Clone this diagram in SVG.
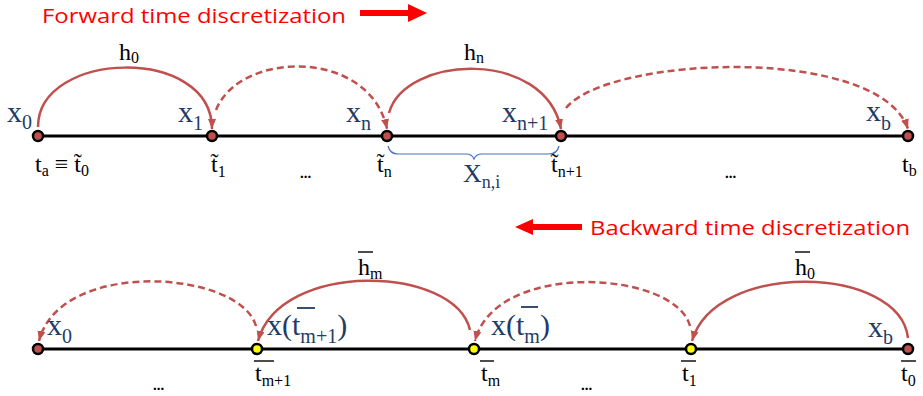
<svg xmlns="http://www.w3.org/2000/svg" width="923" height="396" viewBox="0 0 923 396">
<defs>
<style>
.title{font-family:"Open Sans","Liberation Sans",sans-serif;font-size:20.5px;fill:#FF0000}
.m{font-family:"Liberation Serif","Times New Roman",serif;fill:#000}
.xl{font-family:"Liberation Serif","Times New Roman",serif;fill:#1F3B66;font-size:30px}
.xs{font-size:20px}
.t{font-size:24px}
.ts{font-size:16px}
.dots{font-family:"Liberation Serif",serif;font-size:15px;font-weight:bold;fill:#000}
.axis{stroke:#000;stroke-width:3;fill:none}
.arc{stroke:#C0504D;stroke-width:2.5;fill:none;marker-end:url(#ah)}
.dash{stroke-dasharray:7 4}
.nr{fill:#C0504D;stroke:#000;stroke-width:2.5}
.ny{fill:#FFFF00;stroke:#000;stroke-width:2.5}
.bar{stroke:#000;stroke-width:1.4}
.xbar{stroke:#1F3B66;stroke-width:1.8}
.brace{stroke:#4472C4;stroke-width:1.2;fill:none}
</style>
<marker id="ah" markerUnits="userSpaceOnUse" markerWidth="11" markerHeight="9" refX="10" refY="4" orient="auto">
<path d="M0,0 L10,4 L0,8 z" fill="#C0504D"/>
</marker>
</defs>

<g id="titles">
<text class="title" x="42" y="22.5" textLength="304" lengthAdjust="spacingAndGlyphs">Forward time discretization</text>
<polygon points="360,10 408,10 408,4 427,13 408,22 408,16 360,16" fill="#FF0000"/>
<text class="title" x="590" y="235" textLength="320" lengthAdjust="spacingAndGlyphs">Backward time discretization</text>
<polygon points="582,224 533,224 533,219 515,227 533,235 533,230 582,230" fill="#FF0000"/>
</g>

<g id="axes">
<line class="axis" x1="38" y1="136" x2="908" y2="136"/>
<line class="axis" x1="38" y1="349" x2="908" y2="349"/>
</g>

<g id="connectors">
<path class="arc" d="M38,127 C38,50 212,45 212,129"/>
<path class="arc dash" d="M216,110 C240,50 370,48 387,129"/>
<path class="arc" d="M389,113 C405,55 545,48 561,129"/>
<path class="arc dash" d="M566,108 C610,55 880,45 908,129"/>
<path class="arc dash" d="M256,326 C240,270 60,258 39,341"/>
<path class="arc" d="M470,330 C455,265 280,260 258,341"/>
<path class="arc dash" d="M690,326 C675,270 495,260 475,341"/>
<path class="arc" d="M908,338 C900,265 715,260 692,341"/>
</g>

<g id="brace">
<path class="brace" d="M388,146 Q390,154 398,154 L466,154 Q472,154 474,159 Q476,154 482,154 L549,154 Q557,154 559,146"/>
<text class="xl" x="463" y="182" style="font-size:26px">X<tspan style="font-size:18px" dy="6">n,i</tspan></text>
</g>

<g id="node-x0">
<circle class="nr" cx="38" cy="136" r="5"/>
<text class="xl" x="7" y="122">x<tspan class="xs" dy="7">0</tspan></text>
<text class="m t" x="35" y="172">t<tspan class="ts" dy="4">a</tspan><tspan dy="-4"> ≡ t&#x303;</tspan><tspan class="ts" dy="4">0</tspan></text>
</g>

<g id="node-x1">
<circle class="nr" cx="212" cy="136" r="5"/>
<text class="xl" x="178" y="122">x<tspan class="xs" dy="8">1</tspan></text>
<text class="m t" x="211" y="172">t&#x303;<tspan class="ts" dy="5">1</tspan></text>
</g>

<g id="node-xn">
<circle class="nr" cx="387" cy="136" r="5"/>
<text class="xl" x="346" y="122">x<tspan class="xs" dy="8">n</tspan></text>
<text class="m t" x="377" y="172">t&#x303;<tspan class="ts" dy="5">n</tspan></text>
</g>

<g id="node-xn1">
<circle class="nr" cx="561" cy="136" r="5"/>
<text class="xl" x="502" y="122">x<tspan class="xs" dy="8">n+1</tspan></text>
<text class="m t" x="551" y="172">t&#x303;<tspan class="ts" dy="5">n+1</tspan></text>
</g>

<g id="node-xb">
<circle class="nr" cx="908" cy="136" r="5"/>
<text class="xl" x="866" y="121">x<tspan class="xs" dy="9">b</tspan></text>
<text class="m t" x="902" y="172">t<tspan class="ts" dy="4">b</tspan></text>
</g>

<g id="labels-top">
<text class="m t" x="119" y="60">h<tspan class="ts" dy="3">0</tspan></text>
<text class="m t" x="464" y="60">h<tspan class="ts" dy="3">n</tspan></text>
<text class="dots" x="300" y="178">...</text>
<text class="dots" x="725" y="178">...</text>
</g>

<g id="node-bx0">
<circle class="nr" cx="38" cy="349" r="5"/>
<text class="xl" x="47" y="335">x<tspan class="xs" dy="8">0</tspan></text>
</g>

<g id="node-tm1">
<circle class="ny" cx="257" cy="349" r="5"/>
<text class="xl" x="267" y="335">x(t<tspan class="xs" dy="8">m+1</tspan><tspan dy="-8">)</tspan></text>
<line class="xbar" x1="297" y1="308" x2="315" y2="308"/>
<text class="m t" x="255" y="381">t<tspan class="ts" dy="5">m+1</tspan></text>
<line class="bar" x1="254" y1="361" x2="274" y2="361"/>
</g>

<g id="node-tm">
<circle class="ny" cx="474" cy="349" r="5"/>
<text class="xl" x="491" y="335">x(t<tspan class="xs" dy="8">m</tspan><tspan dy="-8">)</tspan></text>
<line class="xbar" x1="521" y1="307" x2="538" y2="307"/>
<text class="m t" x="481" y="381">t<tspan class="ts" dy="5">m</tspan></text>
<line class="bar" x1="480" y1="361" x2="494" y2="361"/>
</g>

<g id="node-t1">
<circle class="ny" cx="691" cy="349" r="5"/>
<text class="m t" x="682" y="381">t<tspan class="ts" dy="5">1</tspan></text>
<line class="bar" x1="681" y1="361" x2="696" y2="361"/>
</g>

<g id="node-bxb">
<circle class="nr" cx="908" cy="349" r="5"/>
<text class="xl" x="868" y="337">x<tspan class="xs" dy="7">b</tspan></text>
<text class="m t" x="901" y="381">t<tspan class="ts" dy="5">0</tspan></text>
<line class="bar" x1="901" y1="361" x2="916" y2="361"/>
</g>

<g id="labels-bottom">
<text class="m t" x="358" y="275">h<tspan class="ts" dy="4">m</tspan></text>
<line class="bar" x1="358" y1="252" x2="373" y2="252"/>
<text class="m t" x="795" y="275">h<tspan class="ts" dy="4">0</tspan></text>
<line class="bar" x1="795" y1="252" x2="810" y2="252"/>
<text class="dots" x="153" y="390">...</text>
<text class="dots" x="581" y="390">...</text>
</g>
</svg>
